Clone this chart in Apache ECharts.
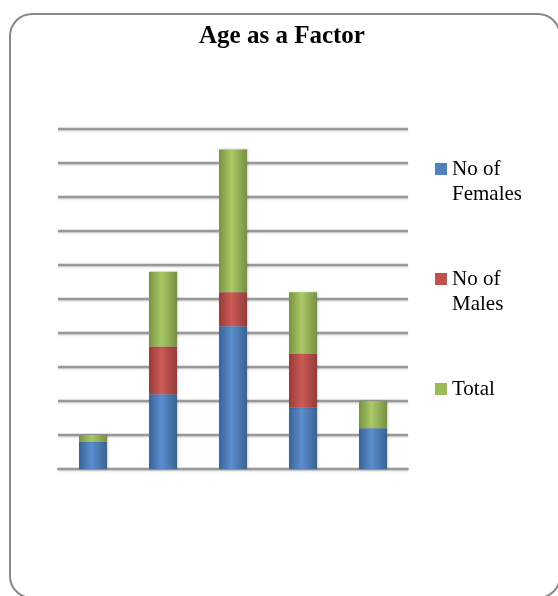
<!DOCTYPE html>
<html>
<head>
<meta charset="utf-8">
<script src="https://cdn.jsdelivr.net/npm/echarts@6/dist/echarts.min.js"></script>
<style>
  html, body { margin: 0; padding: 0; background: #ffffff; }
  #chart { width: 558px; height: 596px; }
</style>
</head>
<body>
<div id="chart"></div>
<script>
// Age groups (categories carry no visible labels on the axis)
const categories = ['1', '2', '3', '4', '5'];
const femaleCounts = [4, 11, 21, 9, 6];
const maleCounts = [0, 7, 5, 8, 0];
const totalCounts = [1, 11, 21, 9, 4];

const seriesNames = ['No of\nFemales', 'No of\nMales', 'Total'];
const yMax = 50;
const yStep = 5;

// Cylinder-like shading across each bar
function shade(dark, light, darkEdge) {
  return {
    type: 'linear', x: 0, y: 0, x2: 1, y2: 0,
    colorStops: [
      { offset: 0, color: dark },
      { offset: 0.45, color: light },
      { offset: 1, color: darkEdge }
    ]
  };
}

const fills = [
  shade('#3b6394', '#5b8fcf', '#3a6192'),
  shade('#943c39', '#cd5b57', '#933b39'),
  shade('#789244', '#a9ca65', '#779043')
];
const swatches = ['#4f81bd', '#c0504d', '#9bbb59'];
const dataSets = [femaleCounts, maleCounts, totalCounts];

// Every legend entry is three lines tall so that the swatch sits on the
// first line of the name and the entries are evenly spaced.
function legendText(name) {
  return name.indexOf('\n') >= 0 ? ' \n' + name : ' \n' + name + '\n ';
}

const chart = echarts.init(document.getElementById('chart'), null, { renderer: 'canvas' });

chart.setOption({
  animation: false,
  backgroundColor: '#ffffff',
  title: {
    text: 'Age as a Factor',
    left: 199,
    top: 24,
    padding: 0,
    textStyle: {
      fontFamily: 'Liberation Serif',
      fontWeight: 'bold',
      fontSize: 25,
      color: '#000000'
    }
  },
  legend: {
    orient: 'vertical',
    left: 435,
    top: 131.5,
    padding: 0,
    itemWidth: 12,
    itemHeight: 12,
    itemGap: 35,
    icon: 'rect',
    selectedMode: false,
    formatter: legendText,
    textStyle: {
      fontFamily: 'Liberation Serif',
      fontSize: 21,
      lineHeight: 25,
      color: '#000000'
    },
    data: seriesNames.map((name, i) => ({ name: name, itemStyle: { color: swatches[i] } }))
  },
  grid: {
    left: 58,
    right: 150,
    top: 129,
    bottom: 127,
    containLabel: false
  },
  xAxis: {
    type: 'category',
    data: categories,
    axisLine: { show: true, lineStyle: { color: '#999999', width: 2 } },
    axisTick: { show: false },
    axisLabel: { show: false }
  },
  yAxis: {
    type: 'value',
    min: 0,
    max: yMax,
    interval: yStep,
    axisLine: { show: false },
    axisTick: { show: false },
    axisLabel: { show: false },
    splitLine: {
      show: true,
      lineStyle: {
        color: '#999999',
        width: 2.4,
        shadowColor: 'rgba(0,0,0,0.18)',
        shadowBlur: 2,
        shadowOffsetY: 1
      }
    }
  },
  series: dataSets.map((values, i) => ({
    name: seriesNames[i],
    type: 'bar',
    stack: 'age',
    barWidth: 28,
    data: values,
    itemStyle: {
      color: fills[i],
      shadowColor: 'rgba(0,0,0,0.2)',
      shadowBlur: 2,
      shadowOffsetX: 1
    },
    emphasis: { disabled: true }
  })),
  graphic: [
    {
      type: 'rect',
      silent: true,
      z: 100,
      shape: { x: 10, y: 14, width: 550, height: 584, r: 22 },
      style: { fill: 'none', stroke: '#888888', lineWidth: 2 }
    }
  ]
});
</script>
</body>
</html>
